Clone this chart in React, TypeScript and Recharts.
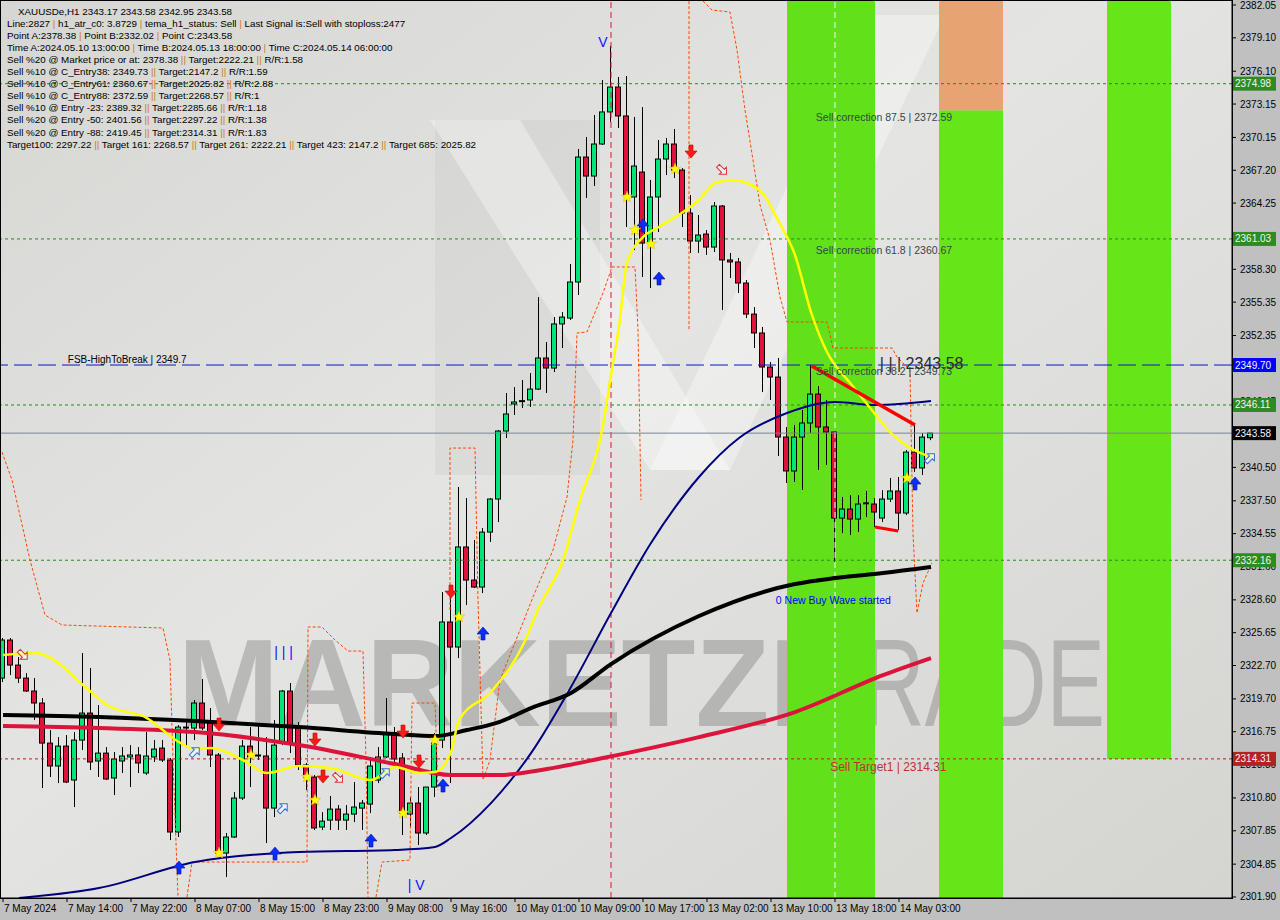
import React from 'react'
import {
  ComposedChart,
  Bar,
  Line,
  Scatter,
  XAxis,
  YAxis,
  ReferenceLine,
  ReferenceArea,
  ReferenceDot,
} from 'recharts'

const FONT = "'Liberation Sans', Arial, sans-serif"

// XAUUSDe H1 candles, one per hour from 7 May 06:00
const OPEN = [
  2321.57, 2324.99, 2322.74, 2321.57, 2320.41, 2319.33, 2315.73, 2313.67, 2315.46, 2312.41,
  2316.0, 2318.43, 2314.12, 2314.83, 2312.59, 2314.12, 2314.48, 2314.66, 2313.04, 2314.48,
  2315.28, 2314.21, 2307.74, 2317.17, 2317.08, 2319.33, 2317.53, 2314.66, 2305.85, 2307.29,
  2310.79, 2315.46, 2314.66, 2314.57, 2309.89, 2315.73, 2320.41, 2317.08, 2313.76, 2312.68,
  2308.19, 2308.81, 2309.8, 2308.81, 2309.35, 2309.89, 2310.25, 2312.41, 2314.48, 2316.63,
  2314.39, 2309.35, 2310.34, 2307.65, 2311.78, 2316.0, 2326.61, 2324.36, 2333.35, 2330.38,
  2329.75, 2334.69, 2337.66, 2343.77, 2346.2, 2346.47, 2346.56, 2347.54, 2350.33, 2349.43,
  2353.39, 2353.92, 2357.16, 2368.39, 2366.68, 2369.56, 2372.44, 2374.68, 2372.08, 2364.8,
  2367.04, 2360.66, 2364.8, 2368.21, 2369.56, 2367.22, 2363.36, 2360.84, 2361.47, 2360.3,
  2363.99, 2359.14, 2358.96, 2357.07, 2354.28, 2352.58, 2349.52, 2348.62, 2343.23, 2340.18,
  2343.23, 2344.49, 2347.09, 2344.13, 2343.68, 2335.95, 2336.76, 2335.86, 2337.3, 2337.21,
  2335.95, 2337.66, 2338.38, 2336.4, 2341.88, 2340.45, 2343.17,
]
const HIGH = [
  2325.17, 2325.17, 2323.46, 2322.02, 2321.57, 2319.78, 2316.9, 2316.27, 2316.45, 2316.72,
  2323.82, 2322.47, 2319.15, 2315.37, 2314.93, 2315.37, 2315.55, 2315.37, 2316.72, 2316.0,
  2316.0, 2314.39, 2317.35, 2317.8, 2319.6, 2321.49, 2318.88, 2314.83, 2307.65, 2311.33,
  2316.0, 2317.17, 2317.35, 2316.27, 2317.8, 2320.5, 2321.13, 2317.62, 2313.94, 2312.86,
  2309.53, 2310.97, 2310.16, 2310.16, 2312.23, 2310.61, 2314.48, 2315.37, 2319.78, 2317.17,
  2314.83, 2310.88, 2311.78, 2311.78, 2316.63, 2329.3, 2329.21, 2338.74, 2337.75, 2333.98,
  2335.05, 2337.75, 2343.86, 2347.19, 2347.72, 2348.35, 2348.98, 2355.81, 2351.77, 2354.01,
  2354.46, 2358.78, 2369.11, 2370.19, 2372.17, 2375.31, 2378.38, 2375.58, 2375.67, 2371.99,
  2372.88, 2366.33, 2369.92, 2370.1, 2370.91, 2367.4, 2364.98, 2363.18, 2361.83, 2364.35,
  2364.08, 2359.77, 2359.32, 2357.34, 2354.91, 2353.12, 2349.97, 2350.33, 2344.13, 2344.31,
  2345.66, 2349.7, 2347.81, 2346.56, 2343.7, 2337.84, 2338.02, 2338.02, 2338.38, 2337.75,
  2338.47, 2339.55, 2339.64, 2342.06, 2344.31, 2343.59, 2343.58,
]
const LOW = [
  2321.22, 2321.84, 2321.13, 2320.32, 2317.8, 2311.69, 2312.68, 2312.14, 2312.14, 2309.98,
  2315.1, 2313.31, 2312.68, 2312.41, 2311.06, 2313.04, 2311.78, 2313.04, 2312.86, 2314.03,
  2314.03, 2307.02, 2307.29, 2315.37, 2316.0, 2316.9, 2313.58, 2305.67, 2303.69, 2307.2,
  2310.61, 2311.78, 2314.21, 2306.75, 2309.08, 2315.55, 2314.83, 2313.31, 2311.51, 2307.92,
  2307.92, 2307.92, 2307.92, 2307.92, 2308.63, 2307.92, 2309.44, 2312.14, 2314.39, 2313.94,
  2307.47, 2308.19, 2306.57, 2307.47, 2310.88, 2315.28, 2312.14, 2323.37, 2328.13, 2329.66,
  2329.21, 2333.8, 2335.59, 2343.14, 2345.21, 2345.84, 2345.93, 2347.45, 2347.19, 2349.07,
  2351.23, 2353.74, 2355.99, 2364.71, 2365.79, 2369.47, 2371.54, 2371.0, 2362.1, 2360.03,
  2357.61, 2356.62, 2361.65, 2366.77, 2366.5, 2362.1, 2359.77, 2359.77, 2359.59, 2359.86,
  2354.64, 2357.52, 2356.17, 2353.92, 2351.23, 2347.27, 2346.56, 2341.52, 2339.1, 2339.19,
  2338.47, 2343.59, 2340.27, 2340.72, 2332.02, 2334.6, 2334.42, 2334.69, 2336.04, 2335.14,
  2335.59, 2337.39, 2334.87, 2336.22, 2340.09, 2339.82, 2342.95,
]
const CLOSE = [
  2324.99, 2322.74, 2321.57, 2320.41, 2319.33, 2315.73, 2313.67, 2315.46, 2312.23, 2316.0,
  2318.43, 2314.03, 2314.83, 2312.5, 2314.3, 2314.57, 2314.66, 2313.94, 2314.57, 2315.19,
  2314.21, 2307.74, 2317.17, 2317.08, 2319.33, 2317.08, 2314.66, 2305.85, 2307.29, 2310.79,
  2315.46, 2314.48, 2314.57, 2309.89, 2315.55, 2320.41, 2315.73, 2313.76, 2312.68, 2308.1,
  2308.72, 2309.8, 2308.81, 2309.35, 2309.98, 2310.34, 2313.67, 2314.48, 2316.63, 2314.3,
  2309.44, 2310.34, 2307.65, 2311.78, 2315.73, 2326.61, 2324.36, 2333.35, 2330.38, 2329.75,
  2334.69, 2337.66, 2343.77, 2345.3, 2346.38, 2346.5, 2347.54, 2350.33, 2349.43, 2353.39,
  2354.01, 2357.16, 2368.39, 2366.68, 2369.56, 2372.44, 2374.68, 2372.08, 2364.89, 2367.58,
  2360.66, 2364.8, 2368.21, 2369.56, 2367.22, 2363.36, 2360.84, 2361.38, 2360.3, 2363.99,
  2359.14, 2358.96, 2357.07, 2354.28, 2352.58, 2349.52, 2348.62, 2343.23, 2340.18, 2343.23,
  2344.49, 2347.09, 2344.13, 2343.68, 2335.95, 2336.76, 2335.86, 2337.21, 2337.32, 2336.49,
  2337.66, 2338.38, 2336.4, 2341.88, 2340.45, 2343.23, 2343.58,
]

const TIME_TICKS = [0, 8, 16, 24, 32, 40, 48, 56, 64, 72, 80, 88, 96, 104, 112]
const TIME_LABELS = [
  '7 May 2024', '7 May 14:00', '7 May 22:00', '8 May 07:00', '8 May 15:00',
  '8 May 23:00', '9 May 08:00', '9 May 16:00', '10 May 01:00', '10 May 09:00',
  '10 May 17:00', '13 May 02:00', '13 May 10:00', '13 May 18:00', '14 May 03:00',
]
const PRICE_TICKS = [
  2301.9, 2304.85, 2307.85, 2310.8, 2313.8, 2316.75, 2319.7, 2322.7, 2325.65, 2328.6,
  2331.6, 2334.55, 2337.5, 2340.5, 2346.45, 2349.4, 2352.35, 2355.35, 2358.3,
  2364.25, 2367.2, 2370.15, 2373.15, 2376.1, 2379.1, 2382.05,
]
// price tags on the right scale (drawn after the plain ticks so they sit on top)
const TAG_LEVELS = [2374.98, 2361.03, 2349.7, 2346.11, 2343.58, 2332.16, 2314.31]
const TAG_COLORS = ['#2e8b22', '#2e8b22', '#0000ff', '#2e8b22', '#000000', '#2e8b22', '#b22222']

// moving averages (bar index, price)
const BLACK_MA_I = [0, 12, 24, 37, 49, 54, 58, 62, 66, 71, 76, 87, 99, 104, 110, 116]
const BLACK_MA_P = [2318.25, 2318.07, 2317.71, 2317.17, 2316.54, 2316.36, 2316.9, 2317.62, 2318.88, 2320.23, 2322.83, 2327.15, 2330.02, 2330.56, 2331.01, 2331.55]
const RED_MA_I = [0, 12, 24, 37, 49, 56, 62, 68, 75, 87, 99, 110, 116]
const RED_MA_P = [2317.26, 2317.08, 2316.72, 2315.55, 2313.85, 2312.86, 2312.86, 2313.4, 2314.39, 2316.27, 2318.52, 2321.84, 2323.37]
const NAVY_MA_I = [2, 12, 24, 37, 49, 54, 56, 61, 66, 71, 76, 81, 87, 92, 98, 104, 109, 116]
const NAVY_MA_P = [2301.81, 2302.7, 2305.04, 2305.94, 2306.12, 2306.39, 2307.2, 2310.34, 2314.83, 2320.77, 2327.42, 2333.71, 2339.64, 2343.14, 2345.39, 2346.38, 2346.11, 2346.47]
const YELLOW_MA_I = [0, 4, 6, 10, 13, 18, 22, 24, 26, 30, 33, 37, 41, 46, 49, 52, 54, 56, 57, 61, 65, 67, 70, 72, 75, 76, 77, 78, 80, 82, 85, 87, 89, 91, 93, 95, 97, 99, 101, 103, 106, 108, 111, 113, 116]
const YELLOW_MA_P = [2323.64, 2323.82, 2323.37, 2320.95, 2319.15, 2317.98, 2315.82, 2315.19, 2315.28, 2314.21, 2313.04, 2313.67, 2313.49, 2312.41, 2313.58, 2313.04, 2313.13, 2314.93, 2317.8, 2320.32, 2324.54, 2327.95, 2332.18, 2337.3, 2344.31, 2348.8, 2353.12, 2358.87, 2361.2, 2362.1, 2363.45, 2364.53, 2366.06, 2366.33, 2366.06, 2365.07, 2362.55, 2359.59, 2354.46, 2350.87, 2347.99, 2346.2, 2343.59, 2342.42, 2341.43]

// stepped envelope (orange dashed)
const ENV1_I = [-0.125, 1.125, 3.375, 5.25, 7.375, 20, 20.875, 21.25, 21.875]
const ENV1_P = [2341.88, 2339.37, 2332.18, 2327.24, 2326.34, 2326.07, 2323.19, 2314.21, 2301.9]
const ENV2_I = [23, 23.625, 38, 38.125, 39.875, 41.5, 43.125, 45, 45.375, 45.625]
const ENV2_P = [2301.9, 2305.04, 2305.04, 2326.16, 2326.16, 2324.99, 2324.0, 2324.0, 2314.21, 2301.9]
const ENV3_I = [46.625, 47.375, 50.875, 51.125, 54, 54.375]
const ENV3_P = [2301.9, 2305.04, 2305.22, 2319.33, 2319.33, 2311.51]
const ENV4_I = [55.875, 55.875, 59, 59.375, 60, 60.875, 62.125, 64.625, 66.25, 68.75, 70.5, 71.25, 71.75, 73, 75, 76.125, 79, 79.375, 79.75]
const ENV4_P = [2327.69, 2342.24, 2342.24, 2328.58, 2312.41, 2314.21, 2321.4, 2325.89, 2328.85, 2333.08, 2337.84, 2342.96, 2352.58, 2352.67, 2356.17, 2358.51, 2358.51, 2352.85, 2337.57]
const ENV5_I = [85.75, 85.75]
const ENV5_P = [2382.4, 2352.85]
const ENV6_I = [87.5, 88.625, 90.875, 91.75, 92.75, 93.75, 94.625, 95.875, 97.125, 98, 103, 103.75, 111.125, 111.75, 113.375, 113.75, 114.25, 115, 116.125]
const ENV6_P = [2382.4, 2381.6, 2381.42, 2378.01, 2372.62, 2368.12, 2364.08, 2360.93, 2355.81, 2353.57, 2353.57, 2351.23, 2351.23, 2350.42, 2349.25, 2334.6, 2327.42, 2330.11, 2331.91]

const TREND1_I = [101.1, 114]
const TREND1_P = [2349.61, 2344.31]
const TREND2_I = [109, 111.9]
const TREND2_P = [2335.14, 2334.78]

// signal markers
const SELL_ARROW_I = [27, 39, 40, 50, 52, 56, 86]
const SELL_ARROW_P = [2317.35, 2316.0, 2312.68, 2316.72, 2314.03, 2329.3, 2368.84]
const BUY_ARROW_I = [22, 34, 46, 55, 60, 80, 82, 114]
const BUY_ARROW_P = [2304.59, 2305.85, 2307.02, 2311.96, 2325.62, 2362.28, 2357.52, 2339.1]
const STAR_I = [27, 31, 38, 39, 50, 54, 57, 78, 79, 81, 84, 113]
const STAR_P = [2305.85, 2314.66, 2312.68, 2310.61, 2309.44, 2316.0, 2327.06, 2364.8, 2361.83, 2360.57, 2367.31, 2339.55]
const HOLLOW_SELL_I = [2.5, 41.9, 89.9]
const HOLLOW_SELL_P = [2323.64, 2312.59, 2367.22]
const HOLLOW_BUY_I = [24, 35, 47.75, 115.9]
const HOLLOW_BUY_P = [2314.93, 2309.89, 2313.04, 2341.34]

const HEADER = [
  'XAUUSDe,H1  2343.17 2343.58 2342.95 2343.58',
  'Line:2827 | h1_atr_c0: 3.8729 | tema_h1_status: Sell | Last Signal is:Sell with stoploss:2477',
  'Point A:2378.38 | Point B:2332.02 | Point C:2343.58',
  'Time A:2024.05.10 13:00:00 | Time B:2024.05.13 18:00:00 | Time C:2024.05.14 06:00:00',
  'Sell %20 @ Market price or at: 2378.38 || Target:2222.21 || R/R:1.58',
  'Sell %10 @ C_Entry38: 2349.73 || Target:2147.2 || R/R:1.59',
  'Sell %10 @ C_Entry61: 2360.67 || Target:2025.82 || R/R:2.88',
  'Sell %10 @ C_Entry88: 2372.59 || Target:2268.57 || R/R:1',
  'Sell %10 @ Entry -23: 2389.32 || Target:2285.66 || R/R:1.18',
  'Sell %20 @ Entry -50: 2401.56 || Target:2297.22 || R/R:1.38',
  'Sell %20 @ Entry -88: 2419.45 || Target:2314.31 || R/R:1.83',
  'Target100: 2297.22 || Target 161: 2268.57 || Target 261: 2222.21 || Target 423: 2147.2 || Target 685: 2025.82',
]

const candles = OPEN.map((o, i) => ({ i, open: o, high: HIGH[i], low: LOW[i], close: CLOSE[i] }))
const pts = (xs: number[], ys: number[]) => xs.map((i, k) => ({ i, v: ys[k] }))

const Candle = (props: any) => {
  const { x, y, width, height, payload } = props
  if (payload == null) return null
  const { open, close, high, low } = payload
  const top = Math.min(y, y + height)
  const h = Math.abs(height)
  const k = h / (high - low)
  const cx = Math.floor(x + width / 2) + 0.5
  const bodyTop = top + (high - Math.max(open, close)) * k
  const bodyH = Math.max(1, Math.abs(open - close) * k)
  const up = close >= open
  return (
    <g>
      <line x1={cx} x2={cx} y1={top} y2={top + h} stroke="#000" strokeWidth={1} />
      <rect x={cx - 3} y={bodyTop} width={5} height={bodyH} fill={up ? '#00e676' : '#dc143c'} stroke="#000" strokeWidth={1} />
    </g>
  )
}

const SellArrow = ({ cx, cy }: any) => (
  <path
    d={`M${cx - 2},${cy - 7} H${cx + 2} V${cy - 1} H${cx + 6} L${cx},${cy + 6} L${cx - 6},${cy - 1} H${cx - 2} Z`}
    fill="#ff1a1a" stroke="#c00000" strokeWidth={0.6}
  />
)
const BuyArrow = ({ cx, cy }: any) => (
  <path
    d={`M${cx - 2},${cy + 7} H${cx + 2} V${cy + 1} H${cx + 6} L${cx},${cy - 6} L${cx - 6},${cy + 1} H${cx - 2} Z`}
    fill="#0a2cff" stroke="#0010a0" strokeWidth={0.6}
  />
)
const Star = ({ cx, cy }: any) => {
  const p: string[] = []
  for (let k = 0; k < 10; k++) {
    const r = k % 2 === 0 ? 6 : 2.6
    const a = -Math.PI / 2 + (k * Math.PI) / 5
    p.push(`${cx + r * Math.cos(a)},${cy + r * Math.sin(a)}`)
  }
  return <polygon points={p.join(' ')} fill="#ffff00" stroke="#e0b000" strokeWidth={0.5} />
}
const hollow = (color: string, angle: number) => ({ cx, cy }: any) => (
  <g transform={`translate(${cx},${cy}) rotate(${angle})`}>
    <path d="M-6,-2 H1 V-5 L6,0 L1,5 V2 H-6 Z" fill="rgba(255,255,255,0.55)" stroke={color} strokeWidth={1} />
  </g>
)

const textDot = (txt: string, color: string, size: number, dy: number) => ({ cx, cy }: any) => (
  <text x={cx} y={cy} dy={dy} fill={color} fontSize={size} fontFamily={FONT}>{txt}</text>
)

const XTick = ({ x, y, payload }: any) => {
  const k = TIME_TICKS.indexOf(payload.value)
  return (
    <text x={x + 1} y={y} dy={8} fontSize={10} fill="#000" fontFamily={FONT}>{TIME_LABELS[k]}</text>
  )
}
const YTick = ({ x, y, payload }: any) => {
  const v = Number(payload.value)
  const k = TAG_LEVELS.indexOf(v)
  if (k >= 0) {
    return (
      <g>
        <rect x={x - 7} y={y - 7} width={43} height={14} fill={TAG_COLORS[k]} />
        <text x={x - 5} y={y} dy={3.5} fill="#f4f4f4" fontSize={10} fontFamily={FONT}>{v.toFixed(2)}</text>
      </g>
    )
  }
  return (
    <text x={x} y={y} dy={3.5} fontSize={10} fill="#000" fontFamily={FONT}>{v.toFixed(2)}</text>
  )
}

const HeaderLine = ({ text, k }: { text: string; k: number }) => {
  const parts = text.split(/(\|+)/)
  return (
    <text x={k === 0 ? 18 : 7} y={14.5 + 12.1 * k} fontSize={9.8} fontFamily={FONT} fill="#000">
      {parts.map((p, j) => (
        <tspan key={j} fill={p.startsWith('|') ? '#d07a28' : '#000'}>{p}</tspan>
      ))}
    </text>
  )
}

const Y_MIN = 2301.81
const Y_MAX = 2382.41

export default function App() {
  return (
    <div style={{ position: 'absolute', left: 0, top: 0, width: 1280, height: 920, background: '#c0c0c0', overflow: 'hidden' }}>
      {/* plot background + watermark */}
      <svg width={1280} height={920} style={{ position: 'absolute', left: 0, top: 0 }}>
        <defs>
          <linearGradient id="bg" x1="0" y1="0" x2="1" y2="1">
            <stop offset="0" stopColor="#d6d6d3" />
            <stop offset="0.45" stopColor="#e4e4e2" />
            <stop offset="1" stopColor="#d4d4d1" />
          </linearGradient>
        </defs>
        <rect x={0} y={0} width={1232} height={898} fill="url(#bg)" />
        <rect x={435} y={120} width={165} height={355} fill="rgba(0,0,0,0.035)" />
        <polygon points="430,120 520,120 730,470 650,470" fill="rgba(255,255,255,0.35)" />
        <polygon points="650,470 730,470 945,15 870,15" fill="rgba(255,255,255,0.35)" />
        <text x={178} y={726} fontSize={125} fontWeight="bold" fontFamily={FONT} fill="rgba(110,110,110,0.36)" textLength={625} lengthAdjust="spacingAndGlyphs">MARKETZI</text>
        <text x={808} y={726} fontSize={125} fontFamily={FONT} fill="rgba(110,110,110,0.36)" textLength={297} lengthAdjust="spacingAndGlyphs">TRADE</text>
      </svg>

      <div style={{ position: 'absolute', left: 0, top: 0 }}>
        <ComposedChart width={1280} height={920} data={candles} margin={{ top: 1, right: 0, bottom: 0, left: 0 }}>
          <XAxis
            dataKey="i"
            type="number"
            domain={[-0.375, 153.625]}
            allowDataOverflow
            ticks={TIME_TICKS}
            interval={0}
            height={22}
            tickSize={4}
            tickMargin={2}
            tick={<XTick />}
            axisLine={{ stroke: '#000' }}
            tickLine={{ stroke: '#000' }}
          />
          <YAxis
            orientation="right"
            type="number"
            domain={[Y_MIN, Y_MAX]}
            allowDataOverflow
            ticks={[...PRICE_TICKS, ...TAG_LEVELS]}
            interval={0}
            width={48}
            tickSize={4}
            tickMargin={4}
            tick={<YTick />}
            axisLine={{ stroke: '#000' }}
            tickLine={{ stroke: '#000' }}
          />

          <ReferenceArea x1={98} x2={109} fill="#62e01a" fillOpacity={1} stroke="none" />
          <ReferenceArea x1={117} x2={125} y1={Y_MIN} y2={2372.59} fill="#66e619" fillOpacity={1} stroke="none" />
          <ReferenceArea x1={117} x2={125} y1={2372.59} y2={Y_MAX} fill="#e8a372" fillOpacity={1} stroke="none" />
          <ReferenceArea x1={138} x2={146} y1={2314.31} y2={Y_MAX} fill="#66e619" fillOpacity={1} stroke="none" />

          <ReferenceLine x={76} stroke="#dc143c" strokeDasharray="6 4" />
          <ReferenceLine x={104} stroke="#f4f4f4" strokeDasharray="6 4" />

          <ReferenceLine y={2374.98} stroke="#228b22" strokeDasharray="3 3" />
          <ReferenceLine y={2361.03} stroke="#228b22" strokeDasharray="3 3" />
          <ReferenceLine y={2346.11} stroke="#228b22" strokeDasharray="3 3" />
          <ReferenceLine y={2332.16} stroke="#228b22" strokeDasharray="3 3" />
          <ReferenceLine y={2349.7} stroke="#0a14d8" strokeDasharray="18 6" />
          <ReferenceLine y={2343.58} stroke="#7d8590" />
          <ReferenceLine y={2314.31} stroke="#b22222" strokeDasharray="3 3" />

          <Bar dataKey={(d: any) => [d.low, d.high]} barSize={6} shape={<Candle />} isAnimationActive={false} />

          <Line data={pts(ENV1_I, ENV1_P)} dataKey="v" type="linear" stroke="#ff4500" strokeWidth={1} strokeDasharray="3 2" dot={false} activeDot={false} isAnimationActive={false} />
          <Line data={pts(ENV2_I, ENV2_P)} dataKey="v" type="linear" stroke="#ff4500" strokeWidth={1} strokeDasharray="3 2" dot={false} activeDot={false} isAnimationActive={false} />
          <Line data={pts(ENV3_I, ENV3_P)} dataKey="v" type="linear" stroke="#ff4500" strokeWidth={1} strokeDasharray="3 2" dot={false} activeDot={false} isAnimationActive={false} />
          <Line data={pts(ENV4_I, ENV4_P)} dataKey="v" type="linear" stroke="#ff4500" strokeWidth={1} strokeDasharray="3 2" dot={false} activeDot={false} isAnimationActive={false} />
          <Line data={pts(ENV5_I, ENV5_P)} dataKey="v" type="linear" stroke="#ff4500" strokeWidth={1} strokeDasharray="3 2" dot={false} activeDot={false} isAnimationActive={false} />
          <Line data={pts(ENV6_I, ENV6_P)} dataKey="v" type="linear" stroke="#ff4500" strokeWidth={1} strokeDasharray="3 2" dot={false} activeDot={false} isAnimationActive={false} />

          <Line data={pts(NAVY_MA_I, NAVY_MA_P)} dataKey="v" type="monotone" stroke="#000080" strokeWidth={2} dot={false} activeDot={false} isAnimationActive={false} />
          <Line data={pts(RED_MA_I, RED_MA_P)} dataKey="v" type="monotone" stroke="#dc143c" strokeWidth={4} dot={false} activeDot={false} isAnimationActive={false} />
          <Line data={pts(BLACK_MA_I, BLACK_MA_P)} dataKey="v" type="monotone" stroke="#000000" strokeWidth={4} dot={false} activeDot={false} isAnimationActive={false} />
          <Line data={pts(YELLOW_MA_I, YELLOW_MA_P)} dataKey="v" type="monotone" stroke="#ffff00" strokeWidth={2.5} dot={false} activeDot={false} isAnimationActive={false} />

          <Line data={pts(TREND1_I, TREND1_P)} dataKey="v" type="linear" stroke="#ff0000" strokeWidth={3.5} dot={false} activeDot={false} isAnimationActive={false} />
          <Line data={pts(TREND2_I, TREND2_P)} dataKey="v" type="linear" stroke="#ff0000" strokeWidth={3} dot={false} activeDot={false} isAnimationActive={false} />

          <Scatter data={pts(SELL_ARROW_I, SELL_ARROW_P)} dataKey="v" shape={<SellArrow />} isAnimationActive={false} />
          <Scatter data={pts(BUY_ARROW_I, BUY_ARROW_P)} dataKey="v" shape={<BuyArrow />} isAnimationActive={false} />
          <Scatter data={pts(STAR_I, STAR_P)} dataKey="v" shape={<Star />} isAnimationActive={false} />
          <Scatter data={pts(HOLLOW_SELL_I, HOLLOW_SELL_P)} dataKey="v" shape={hollow('#e03030', 45)} isAnimationActive={false} />
          <Scatter data={pts(HOLLOW_BUY_I, HOLLOW_BUY_P)} dataKey="v" shape={hollow('#3070e0', -45)} isAnimationActive={false} />

          <ReferenceDot x={8.1} y={2349.7} r={0} shape={textDot('FSB-HighToBreak | 2349.7', '#000', 10, -2)} />
          <ReferenceDot x={101.6} y={2372.59} r={0} shape={textDot('Sell correction 87.5 | 2372.59', '#35454a', 10.5, 11)} />
          <ReferenceDot x={101.6} y={2360.67} r={0} shape={textDot('Sell correction 61.8 | 2360.67', '#35454a', 10.5, 11)} />
          <ReferenceDot x={101.6} y={2349.73} r={0} shape={textDot('Sell correction 38.2 | 2349.73', '#35454a', 10.5, 10)} />
          <ReferenceDot x={103.4} y={2314.31} r={0} shape={textDot('Sell Target1 | 2314.31', '#c03030', 12, 12)} />
          <ReferenceDot x={96.6} y={2328.58} r={0} shape={textDot('0 New Buy Wave started', '#0000ff', 10.5, 4)} />
          <ReferenceDot x={109.6} y={2349.7} r={0} shape={textDot('| | | 2343.58', '#2a2a2a', 16, 4)} />
          <ReferenceDot x={33.9} y={2323.91} r={0} shape={textDot('| | |', '#1010ff', 14, 5)} />
          <ReferenceDot x={74.4} y={2378.73} r={0} shape={textDot('V', '#1010ff', 14, 5)} />
          <ReferenceDot x={50.6} y={2302.97} r={0} shape={textDot('| V', '#1010ff', 14, 5)} />
        </ComposedChart>
      </div>

      {/* info panel and frame */}
      <svg width={1280} height={920} style={{ position: 'absolute', left: 0, top: 0, pointerEvents: 'none' }}>
        {HEADER.map((t, k) => (
          <HeaderLine key={k} text={t} k={k} />
        ))}
        <rect x={0.5} y={0.5} width={1232} height={898} fill="none" stroke="#000" strokeWidth={1} />
      </svg>
    </div>
  )
}
